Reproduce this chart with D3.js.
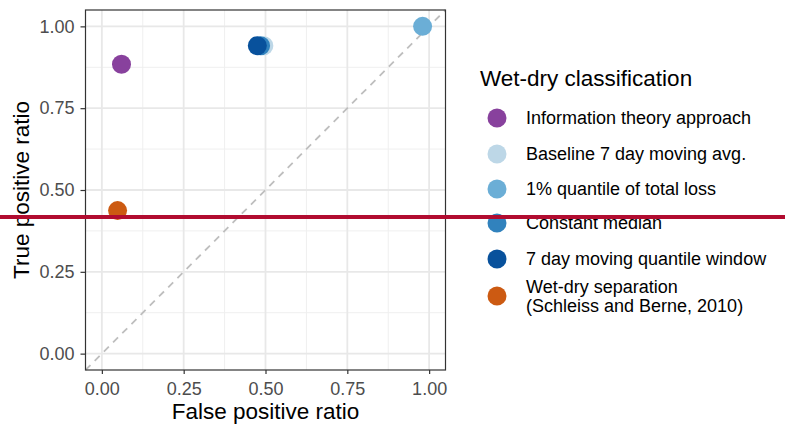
<!DOCTYPE html>
<html lang="en">
<head>
  <meta charset="UTF-8">
  <title>wet-dry roc</title>
  <script src="https://cdn.jsdelivr.net/npm/d3@7"></script>
  <style>
    body { margin: 0; background: #fff; }
    text { font-family: "Liberation Sans", Arial, sans-serif; }
  </style>
</head>
<body>
<svg></svg>
<script>
  const width = 785, height = 424

  // data
  const methods = ['Baseline 7 day moving avg.', '1% quantile of total loss', 'Constant median',
    '7 day moving quantile window', 'Information theory approach', 'Wet-dry separation']
  const fpr = [0.495, 0.98, 0.485, 0.475, 0.06, 0.048]
  const tpr = [0.941, 1.00, 0.941, 0.941, 0.884, 0.437]
  const colors = ['#bdd7e7', '#6baed6', '#3182bd', '#08519c', '#88419d', '#cc5a12']

  const legendLabels = [
    ['Information theory approach'],
    ['Baseline 7 day moving avg.'],
    ['1% quantile of total loss'],
    ['Constant median'],
    ['7 day moving quantile window'],
    ['Wet-dry separation', '(Schleiss and Berne, 2010)']
  ]
  const legendColors = ['#88419d', '#bdd7e7', '#6baed6', '#3182bd', '#08519c', '#cc5a12']
  const ticks = [0, 0.25, 0.5, 0.75, 1]

  const panel = {left: 85.5, right: 445.5, top: 10, bottom: 370}

  const svg = d3.select('svg')
      .attr('width', width)
      .attr('height', height)

  const x = d3.scaleLinear().domain([-0.05, 1.05]).range([panel.left, panel.right])
  const y = d3.scaleLinear().domain([-0.05, 1.05]).range([panel.bottom, panel.top])

  // grid
  const minor = [0.125, 0.375, 0.625, 0.875]
  const grid = svg.append('g')
  grid.selectAll('.vmin').data(minor).join('line')
      .attr('x1', d => x(d)).attr('x2', d => x(d))
      .attr('y1', panel.top).attr('y2', panel.bottom)
      .attr('stroke', '#efefef').attr('stroke-width', 1)
  grid.selectAll('.hmin').data(minor).join('line')
      .attr('y1', d => y(d)).attr('y2', d => y(d))
      .attr('x1', panel.left).attr('x2', panel.right)
      .attr('stroke', '#efefef').attr('stroke-width', 1)
  grid.selectAll('.vmaj').data(ticks).join('line')
      .attr('x1', d => x(d)).attr('x2', d => x(d))
      .attr('y1', panel.top).attr('y2', panel.bottom)
      .attr('stroke', '#e8e8e8').attr('stroke-width', 1.8)
  grid.selectAll('.hmaj').data(ticks).join('line')
      .attr('y1', d => y(d)).attr('y2', d => y(d))
      .attr('x1', panel.left).attr('x2', panel.right)
      .attr('stroke', '#e8e8e8').attr('stroke-width', 1.8)

  // diagonal
  svg.append('line')
      .attr('x1', x(-0.05)).attr('y1', y(-0.05))
      .attr('x2', x(1.05)).attr('y2', y(1.05))
      .attr('stroke', '#bebebe').attr('stroke-width', 1.8)
      .attr('stroke-dasharray', '7,6')

  // points
  svg.append('g')
      .selectAll('circle')
      .data(methods)
      .join('circle')
      .attr('cx', (d, i) => x(fpr[i]))
      .attr('cy', (d, i) => y(tpr[i]))
      .attr('r', 9.5)
      .attr('fill', (d, i) => colors[i])

  // border
  svg.append('rect')
      .attr('x', panel.left).attr('y', panel.top)
      .attr('width', panel.right - panel.left).attr('height', panel.bottom - panel.top)
      .attr('fill', 'none').attr('stroke', '#333').attr('stroke-width', 1.2)

  // axes
  const fmt = d3.format('.2f')
  const xAxis = svg.append('g')
      .attr('transform', `translate(0,${panel.bottom})`)
      .call(d3.axisBottom(x).tickValues(ticks).tickFormat(fmt).tickSize(4).tickPadding(8))
  const yAxis = svg.append('g')
      .attr('transform', `translate(${panel.left},0)`)
      .call(d3.axisLeft(y).tickValues(ticks).tickFormat(fmt).tickSize(5).tickPadding(6))
  for (const ax of [xAxis, yAxis]) {
    ax.attr('font-size', 18).attr('font-family', '"Liberation Sans", Arial, sans-serif')
    ax.select('.domain').remove()
    ax.selectAll('line').attr('stroke', '#333').attr('stroke-width', 1.2)
    ax.selectAll('text').attr('fill', '#4d4d4d')
  }

  svg.append('text')
      .attr('x', (panel.left + panel.right) / 2).attr('y', 419)
      .attr('text-anchor', 'middle')
      .attr('font-size', 22.5)
      .text('False positive ratio')
  svg.append('text')
      .attr('transform', `translate(29,${(panel.top + panel.bottom) / 2}) rotate(-90)`)
      .attr('text-anchor', 'middle')
      .attr('font-size', 22.5)
      .text('True positive ratio')

  // legend
  const legend = svg.append('g')
  legend.append('text')
      .attr('x', 480).attr('y', 86)
      .attr('font-size', 22.5)
      .text('Wet-dry classification')
  const rowY = [118, 154, 189, 223, 259, 296]
  const item = legend.selectAll('g.item')
      .data(legendLabels)
      .join('g')
      .attr('class', 'item')
  item.append('circle')
      .attr('cx', 497).attr('cy', (d, i) => rowY[i])
      .attr('r', 9.5)
      .attr('fill', (d, i) => legendColors[i])
  item.append('text')
      .attr('x', 526)
      .attr('y', (d, i) => rowY[i] - (d.length - 1) * 9.5)
      .attr('font-size', 18)
      .selectAll('tspan')
      .data(d => d)
      .join('tspan')
      .attr('x', 526)
      .attr('dy', (d, i) => i === 0 ? '0.35em' : '1.08em')
      .text(d => d)

  // red marker line
  svg.append('line')
      .attr('x1', 0).attr('x2', width)
      .attr('y1', 217).attr('y2', 217)
      .attr('stroke', '#b10c30').attr('stroke-width', 4)
</script>
</body>
</html>
